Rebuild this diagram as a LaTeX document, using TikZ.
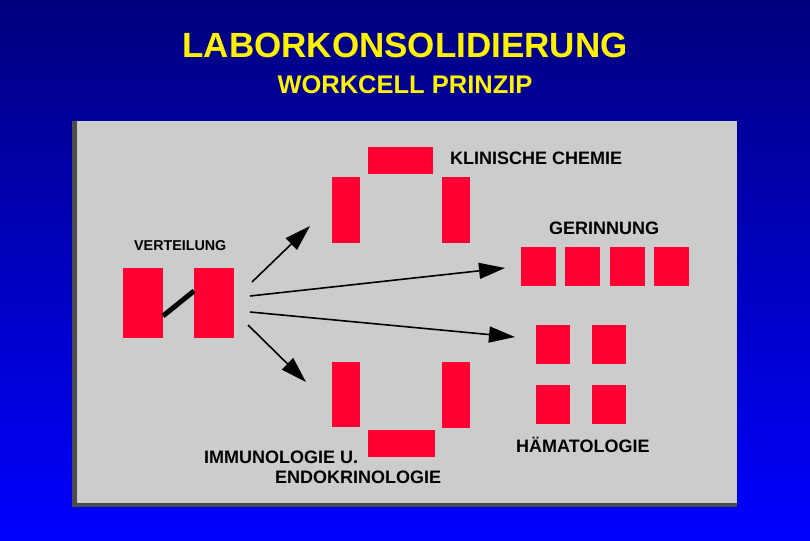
\documentclass[tikz,border=0pt]{standalone}
\usepackage{fontspec}
\setmainfont{Liberation Sans}
\usetikzlibrary{arrows.meta}
\definecolor{rbox}{HTML}{FF0033}
\definecolor{panel}{HTML}{CCCCCC}
\begin{document}
\begin{tikzpicture}[x=1pt,y=-1pt,
  box/.style={fill=rbox,draw=none},
  lbl/.style={font=\bfseries\fontsize{18}{18}\selectfont,anchor=west,inner sep=0},
  arr/.style={line width=1.6pt,-{Triangle[length=26pt,width=16pt]}}]
\shade[top color=black!45!blue!90!black,bottom color=blue] (0,0) rectangle (810,540);
\useasboundingbox (0,0) rectangle (810,540);
\fill[black!70] (72,121) rectangle (737,507);
\fill[panel] (77,121) rectangle (737,503);
\node[font=\bfseries\fontsize{35}{35}\selectfont,text=yellow] (t1) at (405,45) {LABORKONSOLIDIERUNG};
\node[font=\bfseries\fontsize{25.5}{25.5}\selectfont,text=yellow] (t2) at (405,85) {WORKCELL PRINZIP};
% Verteilung
\path[box] (123,268) rectangle (163,338);
\path[box] (194,268) rectangle (234,338);
\coordinate (va) at (163,316); \coordinate (vb) at (194,291);
\draw[line width=5pt] (va) -- (vb);
\node[lbl,font=\bfseries\fontsize{14.3}{14.3}\selectfont] (vl) at (134,246) {VERTEILUNG};
% Klinische Chemie
\path[box] (368,147) rectangle (433,174);
\path[box] (332,177) rectangle (360,243);
\path[box] (442,177) rectangle (470,243);
\node[lbl] (kc) at (450,158) {KLINISCHE CHEMIE};
% Immuno
\path[box] (332,362) rectangle (360,427);
\path[box] (442,362) rectangle (470,428);
\path[box] (368,430) rectangle (435,457);
\node[lbl] (im1) at (204,457) {IMMUNOLOGIE U.};
\node[lbl] (im2) at (275,477) {ENDOKRINOLOGIE};
% Gerinnung
\foreach \x in {521,565,610,654} \path[box] (\x,247) rectangle ++(35,39);
\node[lbl] (ge) at (549,228) {GERINNUNG};
% Haematologie
\foreach \x in {536,592} \foreach \y in {325,385} \path[box] (\x,\y) rectangle ++(34,39);
\node[lbl] (ha) at (516,445) {HÄMATOLOGIE};
% arrows
\coordinate (s1) at (252,282); \coordinate (e1) at (310,226);
\coordinate (s2) at (250,296); \coordinate (e2) at (505,268);
\coordinate (s3) at (250,312); \coordinate (e3) at (515,337);
\coordinate (s4) at (248,325); \coordinate (e4) at (306,382);
\draw[arr] (s1) -- (e1);
\draw[arr] (s2) -- (e2);
\draw[arr] (s3) -- (e3);
\draw[arr] (s4) -- (e4);
\end{tikzpicture}
\end{document}
